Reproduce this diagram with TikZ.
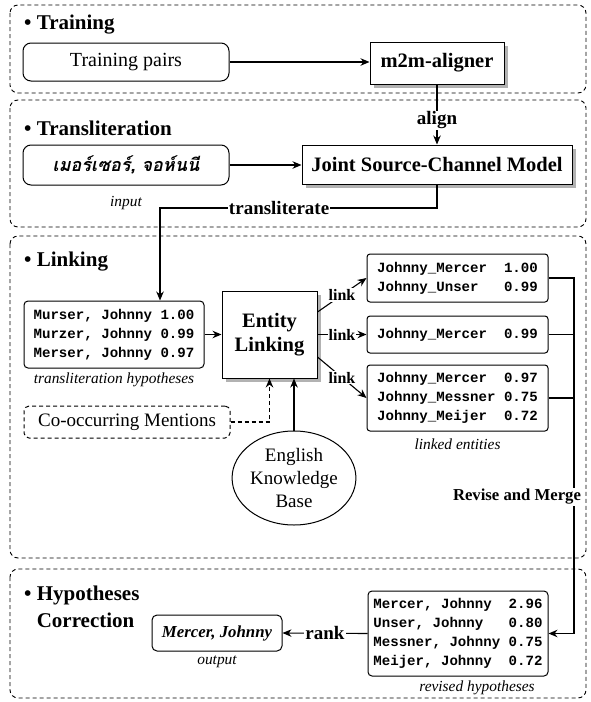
\documentclass[tikz,border=0pt]{standalone}
\usepackage{fontspec}
\setmainfont{Liberation Serif}
\newfontfamily\monof{Liberation Mono}
\newfontfamily\thaifont[Script=Thai]{Loma}
\usetikzlibrary{shadows,arrows.meta,shapes.geometric}
\begin{document}
\begin{tikzpicture}[x=1pt,y=-1pt,
  sec/.style={draw=black, line width=0.9pt, dash pattern=on 4pt off 3pt, rounded corners=8pt},
  ttl/.style={anchor=west, font=\fontsize{21}{27}\selectfont\bfseries, inner sep=0pt, align=left},
  rbox/.style={draw, line width=1pt, rounded corners=5pt, fill=white, inner sep=0pt},
  sbox/.style={draw, line width=1pt, fill=white, inner sep=0pt,
    drop shadow={shadow xshift=3.5pt, shadow yshift=-3.5pt, fill=black!30, opacity=1}},
  mono/.style={font=\fontsize{14.1}{19}\selectfont\monof\bfseries, align=left},
  captxt/.style={font=\fontsize{15.4}{18}\selectfont\itshape, inner sep=0pt},
  lbl/.style={font=\fontsize{19}{22}\selectfont\bfseries, fill=white, inner sep=1pt},
  lnk/.style={font=\fontsize{16}{19}\selectfont\bfseries, fill=white, inner sep=1pt},
  arr/.style={-{Stealth[length=9pt,width=7.5pt]}, line width=1.1pt},
  ln/.style={line width=1.1pt}]
\useasboundingbox (0,0) rectangle (590,702);

% sections
\draw[sec] (10,5) rectangle (586,93);
\draw[sec] (10,100) rectangle (586,227);
\draw[sec] (10,236) rectangle (586,558);
\draw[sec] (10,569) rectangle (586,698);

\node[ttl] (t1) at (24,25) {\textbullet~Training};
\node[ttl] (t2) at (24,128) {\textbullet~Transliteration};
\node[ttl] (t3) at (24,262) {\textbullet~Linking};
\node[ttl] (t4) at (24,607) {\textbullet~Hypotheses\\\phantom{\textbullet~}Correction};

% training
\node[rbox, rounded corners=8pt, minimum width=206pt, minimum height=38pt,
  font=\fontsize{20}{24}\selectfont] (tp) at (126,62) {Training pairs};
\node[sbox, minimum width=134pt, minimum height=42pt,
  font=\fontsize{20.5}{24}\selectfont\bfseries] (m2m) at (437,63) {m2m-aligner};

% transliteration
\node[rbox, rounded corners=8pt, minimum width=206pt, minimum height=40pt,
  font=\fontsize{18}{22}\selectfont] (thai) at (126,165)
  {\thaifont\bfseries\itshape เมอร์เซอร์, จอห์นนี};
\node[captxt] (inp) at (126,203) {input};
\node[sbox, minimum width=270pt, minimum height=39pt,
  font=\fontsize{20.5}{24}\selectfont\bfseries] (joint) at (437,164.5) {Joint Source-Channel Model};

% linking
\node[rbox, rounded corners=4pt, minimum width=180pt, minimum height=67pt, mono] (hyp) at (114,334.5)
  {Murser, Johnny 1.00\\Murzer, Johnny 0.99\\Merser, Johnny 0.97};
\node[captxt] (hypc) at (114,380) {transliteration hypotheses};
\node[sbox, minimum width=95pt, minimum height=87pt, align=center,
  font=\fontsize{20.5}{24}\selectfont\bfseries] (ent) at (269.5,334.5) {Entity\\Linking};

\node[rbox, rounded corners=3pt, minimum width=181pt, minimum height=48pt, mono] (b1) at (457.5,278)
  {Johnny\_Mercer~~1.00\\Johnny\_Unser~~~0.99};
\node[rbox, rounded corners=3pt, minimum width=181pt, minimum height=37pt, mono] (b2) at (457.5,334.5)
  {Johnny\_Mercer~~0.99};
\node[rbox, rounded corners=3pt, minimum width=181pt, minimum height=66pt, mono] (b3) at (457.5,398)
  {Johnny\_Mercer~~0.97\\Johnny\_Messner~0.75\\Johnny\_Meijer~~0.72};
\node[captxt] (b3c) at (457.5,444) {linked entities};

\node[rbox, dash pattern=on 4pt off 3pt, minimum width=206pt, minimum height=32pt,
  font=\fontsize{19}{22}\selectfont] (co) at (127,422) {Co-occurring Mentions};
\node[draw, line width=1pt, ellipse, minimum width=116pt, minimum height=94pt, inner sep=0pt,
  align=center, font=\fontsize{19}{23}\selectfont] (kb) at (294,478) {English\\Knowledge\\Base};

% hypotheses correction
\node[rbox, rounded corners=4pt, minimum width=180pt, minimum height=85pt, mono] (rev) at (458,633.5)
  {Mercer, Johnny~~2.96\\Unser, Johnny~~~0.80\\Messner, Johnny 0.75\\Meijer, Johnny~~0.72};
\node[captxt] (revc) at (477,688) {revised hypotheses};
\node[rbox, minimum width=130pt, minimum height=36pt,
  font=\fontsize{16.8}{20}\selectfont\bfseries\itshape] (merc) at (217,633) {Mercer, Johnny};
\node[captxt] (outc) at (217,662) {output};

% connectors
\draw[arr] (tp.east) -- (tp.east -| m2m.west);
\draw[arr] (m2m.south) -- node[lbl, pos=0.6] (al) {align} (joint.north);
\draw[arr] (thai.east) -- (thai.east -| joint.west);
\coordinate (tr1) at (437,208);
\coordinate (tr2) at (160,208);
\draw[arr] (joint.south) -- (tr1) -- node[lbl, pos=0.57] (trl) {transliterate} (tr2) -- (tr2 |- hyp.north);
\draw[arr] (hyp.east) -- (hyp.east -| ent.west);
\draw[arr] ([yshift=22.5pt]ent.east) -- node[lnk] (l1) {link} (b1.west);
\draw[arr] (ent.east) -- node[lnk] (l2) {link} (b2.west);
\draw[arr] ([yshift=-22.5pt]ent.east) -- node[lnk] (l3) {link} (b3.west);
\draw[arr, dash pattern=on 4pt off 3pt] (co.east) -| (ent.south);
\draw[arr] (kb.north) -- (kb.north |- ent.south);
\coordinate (mg) at (574,633.5);
\draw[arr] (b1.east) -| (mg) -- (rev.east);
\draw[ln] (b2.east) -- (b2.east -| mg);
\draw[ln] (b3.east) -- (b3.east -| mg);
\node[lnk, font=\fontsize{16.7}{20}\selectfont\bfseries] (rm) at (517,497) {Revise and Merge};
\draw[arr] (rev.west) -- node[lbl] (rk) {rank} (merc.east);
\end{tikzpicture}
\end{document}
